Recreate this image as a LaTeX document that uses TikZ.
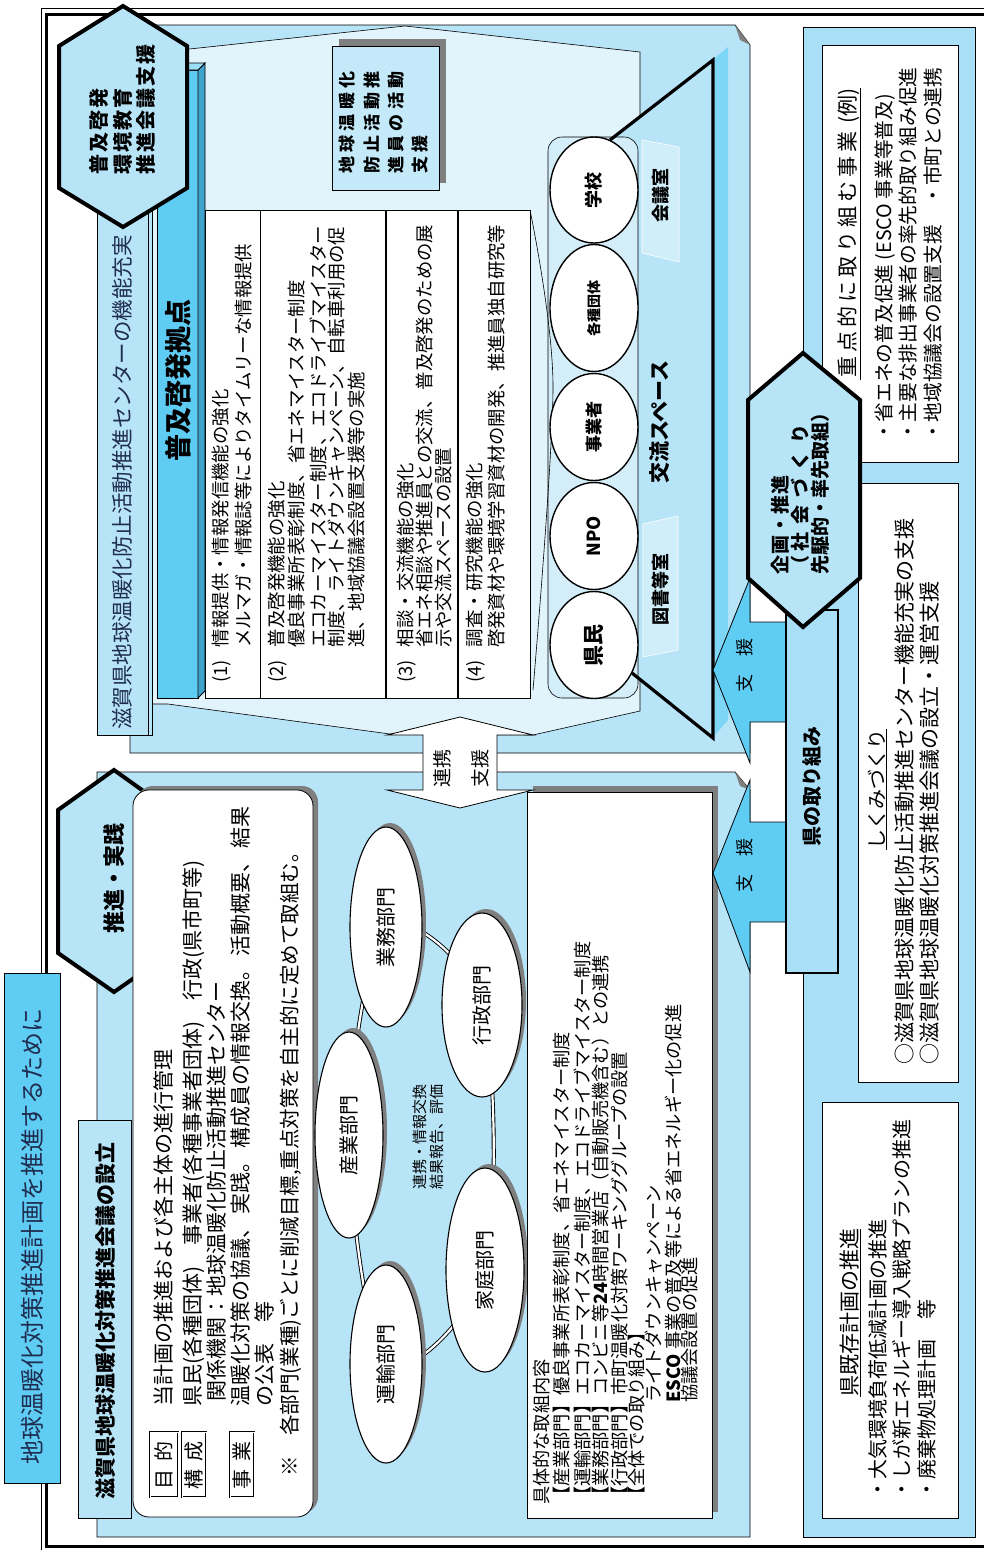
\documentclass[tikz,border=0pt]{standalone}
\usepackage{fontspec}
\setmainfont{Noto Sans CJK JP}
\usetikzlibrary{shapes.geometric}
\definecolor{pale}{HTML}{B8E4F8}
\definecolor{pagec}{HTML}{E1F3FB}
\definecolor{roomc}{HTML}{D3EDF9}
\definecolor{cyanT}{HTML}{5FCCF4}
\definecolor{rpanel}{HTML}{A9DFF7}
\definecolor{stripc}{HTML}{7ED6F6}
\definecolor{sidec}{HTML}{3FA3CC}
\definecolor{topc}{HTML}{9ADFF8}
\definecolor{shadowc}{HTML}{7F7F7F}
\definecolor{navy}{HTML}{1F2D50}
\definecolor{volc}{HTML}{C4EAF9}
\newcommand\fs[1]{\fontsize{#1}{#1}\selectfont}
\makeatletter
\newcommand\spc[2]{\@tfor\spc@c:=#2\do{\makebox[#1][c]{\spc@c}}}
\makeatother
\begin{document}
\begin{tikzpicture}[x=1pt,y=-1pt,
  vt/.style={rotate=90,anchor=west,inner sep=0pt},
  vc/.style={rotate=90,anchor=center,inner sep=0pt},
  ln/.style={draw=black,line width=0.8pt},
  hexa/.style={draw=black,line width=4pt,fill=pale,line join=miter},
  oval/.style={ellipse,draw=black,line width=1.4pt,fill=white,rotate=90,inner sep=0pt},
  tb/.style={vt,font=\fs{18.4}},
  rb/.style={vt,font=\fs{21}},
  rt/.style={vt,font=\fs{18.2}},
]
\useasboundingbox (0,0) rectangle (983,1550);
\fill[white] (0,0) rectangle (983,1550);
% frame
\draw[line width=0.8pt] (41,8) rectangle (1010,1560);
\draw[line width=3pt] (46.5,14) rectangle (1005,1546.5);
% title
\draw[ln,fill=cyanT] (4,973) rectangle (60,1483);
\node[vt,font=\fs{24},text=navy] (title) at (32,1465) {地球温暖化対策推進計画を推進するために};

% ===== upper panel =====
\draw[ln,fill=pale] (130,25) -- (735,25) -- (750,45) -- (750,753) -- (130,753) -- cycle;
\fill[shadowc] (735,25) -- (740,40) -- (750,45) -- cycle;
\draw[line width=0.6pt,fill=pagec] (152,53) -- (405,26) -- (640,52) -- (640,711) -- (533,735) -- (390,734) -- (168,704) -- (152,704) -- cycle;
% room wall
\fill[pale] (610,140) -- (713,60) -- (713,738) -- (632,673) -- cycle;
\fill[stripc] (715,58) -- (728,47) -- (728,720) -- (715,735) -- cycle;
\draw[line width=0.6pt,fill=roomc,rounded corners=14pt] (548,137) rectangle (638,698);
\draw[line width=0.6pt] plot[smooth] coordinates {(530,210) (553,385) (533,690)};
\draw[line width=3.2pt] (610,140) -- (713,60) -- (713,738) -- (632,673);
% wall labels
\fill[white,opacity=0.35] (642,140) -- (679,147) -- (679,262) -- (642,253) -- cycle;
\draw[white,line width=0.6pt] (642,140) -- (679,147) -- (679,262) -- (642,253) -- cycle;
\fill[white,opacity=0.35] (643,524) -- (678,516) -- (678,650) -- (643,657) -- cycle;
\draw[white,line width=0.6pt] (643,524) -- (678,516) -- (678,650) -- (643,657) -- cycle;
\node[vc,font=\bfseries\fs{18}] (kaigi) at (661,195) {会議室};
\node[vc,font=\bfseries\fs{18}] (tosho) at (661,589) {図書等室};
\node[vc,font=\bfseries\fs{21}] (koryu) at (660,422) {交流スペース};
% room ellipses
\node[oval,minimum width=106pt,minimum height=88pt,font=\bfseries\fs{18}] (gakko) at (594,190) {学校};
\node[oval,minimum width=127pt,minimum height=88pt,font=\bfseries\fs{14}] (kakushu) at (594,308) {各種団体};
\node[oval,minimum width=107pt,minimum height=88pt,font=\bfseries\fs{17}] (jigyosha) at (594,427) {事業者};
\node[oval,minimum width=107pt,minimum height=88pt,font=\bfseries\fs{18}] (npo) at (594,536) {NPO};
\node[oval,minimum width=107pt,minimum height=88pt,font=\bfseries\fs{21}] (kenmin) at (594,645) {県民};

% table
\draw[ln,fill=white] (205,210) rectangle (530,698);
\draw[line width=1pt] (260,210) -- (260,698);
\draw[line width=1.8pt] (386,210) -- (386,698);
\draw[line width=1.2pt] (458,210) -- (458,698);
\node[tb] (t1a) at (222,683) {(1)\hspace{13pt}情報提供・情報発信機能の強化};
\node[tb] (t1b) at (243,648) {メルマガ・情報誌等によりタイムリーな情報提供};
\node[tb] (t2a) at (278,683) {(2)\hspace{13pt}普及啓発機能の強化};
\node[tb] (t2b) at (297,648) {優良事業所表彰制度、省エネマイスター制度};
\node[tb] (t2c) at (318,648) {エコカーマイスター制度、エコドライブマイスター};
\node[tb] (t2d) at (337,648) {制度、ライトダウンキャンペーン、自転車利用の促};
\node[tb] (t2e) at (357,648) {進、地域協議会設置支援等の実施};
\node[tb] (t3a) at (407,683) {(3)\hspace{13pt}相談・交流機能の強化};
\node[tb] (t3b) at (425,648) {省エネ相談や推進員との交流、普及啓発のための展};
\node[tb] (t3c) at (444,648) {示や交流スペースの設置};
\node[tb] (t4a) at (476,683) {(4)\hspace{13pt}調査・研究機能の強化};
\node[tb] (t4b) at (497,648) {啓発資材や環境学習資材の開発、推進員独自研究等};

% 3D bar
\fill[cyanT] (157,70) rectangle (198,698);
\draw[line width=0.8pt] (157,70) rectangle (198,698);
\draw[line width=0.8pt,fill=sidec] (198,70) -- (205,63) -- (205,691) -- (198,698) -- cycle;
\draw[line width=0.8pt,fill=topc] (157,70) -- (164,63) -- (205,63) -- (198,70) -- cycle;
\node[vc,font=\bfseries\fs{27}] (kyoten) at (178,380) {普及啓発拠点};

% center label
\draw[ln,fill=pale] (97,210) rectangle (152,735);
\draw[line width=0.6pt] (148,210) -- (148,735);
\node[vt,font=\fs{21.5},text=navy] (centerlbl) at (122,730) {滋賀県地球温暖化防止活動推進センターの機能充実};

% hexagon 1
\draw[hexa] (123,6) -- (187,46) -- (187,188) -- (123,227) -- (59,188) -- (59,46) -- cycle;
\node[vt,font=\bfseries\fs{20}] (h1a) at (99,176) {\spc{22pt}{普及啓発}};
\node[vt,font=\bfseries\fs{20}] (h1b) at (123,176) {\spc{22pt}{環境教育}};
\node[vt,font=\bfseries\fs{20}] (h1c) at (146,176) {\spc{22pt}{推進会議支援}};

% volunteer box
\fill[shadowc] (339,39) rectangle (446,183);
\draw[ln,fill=volc] (332,46) rectangle (439,190);
\node[vt,font=\bfseries\fs{17}] (v1) at (347,176) {\spc{21.3pt}{地球温暖化}};
\node[vt,font=\bfseries\fs{17}] (v2) at (372,176) {\spc{21.3pt}{防止活動推}};
\node[vt,font=\bfseries\fs{17}] (v3) at (396,176) {\spc{21.3pt}{進員の活動}};
\node[vt,font=\bfseries\fs{17}] (v4) at (420,176) {\spc{21.3pt}{支援}};

% ===== lower panel =====
\draw[ln,fill=pale] (97,772) -- (735,772) -- (750,790) -- (750,1537) -- (97,1537) -- cycle;
\fill[shadowc] (735,772) -- (740,786) -- (750,790) -- cycle;
\draw[ln,fill=pale] (78,1120) rectangle (131,1518);
\node[vc,font=\bfseries\fs{21}] (setsuritsu) at (105,1321) {滋賀県地球温暖化対策推進会議の設立};
\draw[hexa] (114,770) -- (170,810) -- (170,953) -- (114,992) -- (58,953) -- (58,810) -- cycle;
\node[vc,font=\bfseries\fs{22}] (suishin) at (114,878) {推進・実践};

% rounded text box
\fill[shadowc,rounded corners=16pt] (137,786) rectangle (318,1513);
\draw[ln,fill=white,rounded corners=16pt] (133,790) rectangle (313,1517);
\draw[double,double distance=0.8pt,line width=0.6pt] (150,1432) rectangle (178,1497);
\draw[double,double distance=0.8pt,line width=0.6pt] (182,1432) rectangle (206,1497);
\draw[double,double distance=0.8pt,line width=0.6pt] (230,1432) rectangle (254,1497);
\node[vc,font=\fs{20}] (mokuteki) at (164,1465) {目\hspace{8pt}的};
\node[vc,font=\fs{20}] (kosei) at (194,1465) {構\hspace{8pt}成};
\node[vc,font=\fs{20}] (jigyo) at (242,1465) {事\hspace{8pt}業};
\node[rb] (r1) at (163,1407) {当計画の推進および各主体の進行管理};
\node[rb] (r2) at (194,1407) {県民(各種団体)　事業者(各種事業者団体)　行政(県市町等)};
\node[rb] (r3) at (217,1402) {関係機関：地球温暖化防止活動推進センター};
\node[rb] (r4) at (241,1407) {温暖化対策の協議、\hspace{3pt}実践。\hspace{3pt}構成員の情報交換。\hspace{3pt}活動概要、\hspace{3pt}結果};
\node[rb] (r5) at (265,1407) {の公表　等};
\node[vt,font=\fs{20.5}] (r6) at (291,1477) {※　各部門(業種)ごとに削減目標,重点対策を自主的に定めて取組む。};

% sector ring
\draw[line width=0.9pt,double=white,double distance=2.2pt] plot[smooth cycle] coordinates {(386,927) (482,1005) (485,1270) (386,1364) (349,1135)};
\fill[shadowc] (390,923) ellipse [x radius=36pt,y radius=100pt];
\fill[shadowc] (486,1001) ellipse [x radius=40pt,y radius=92pt];
\fill[shadowc] (353,1131) ellipse [x radius=34pt,y radius=103pt];
\fill[shadowc] (390,1360) ellipse [x radius=36pt,y radius=99pt];
\fill[shadowc] (489,1266) ellipse [x radius=39pt,y radius=102pt];
\node[oval,line width=1.1pt,minimum width=200pt,minimum height=72pt,font=\fs{20}] (gyomu) at (386,927) {業務部門};
\node[oval,line width=1.1pt,minimum width=184pt,minimum height=80pt,font=\fs{20}] (gyosei) at (482,1005) {行政部門};
\node[oval,line width=1.1pt,minimum width=206pt,minimum height=68pt,font=\fs{20}] (sangyo) at (349,1135) {産業部門};
\node[oval,line width=1.1pt,minimum width=198pt,minimum height=72pt,font=\fs{20}] (unyu) at (386,1364) {運輸部門};
\node[oval,line width=1.1pt,minimum width=204pt,minimum height=78pt,font=\fs{20}] (katei) at (485,1270) {家庭部門};
\node[vt,font=\fs{15}] (cen1) at (420,1190) {連携・情報交換};
\node[vt,font=\fs{15}] (cen2) at (437,1190) {結果報告、評価};

% right text box
\fill[shadowc] (533,786) rectangle (718,1512);
\draw[ln,fill=white] (527,792) rectangle (712,1518);
\node[rt] (b0) at (542,1505) {具体的な取組内容};
\node[rt] (b1) at (562,1505) {【産業部門】優良事業所表彰制度、省エネマイスター制度};
\node[rt] (b2) at (582,1505) {【運輸部門】エコカーマイスター制度、エコドライブマイスター制度};
\node[rt] (b3) at (601,1505) {【業務部門】コンビニ等\textbf{24}時間営業店（自動販売機含む）との連携};
\node[rt] (b4) at (620,1505) {【行政部門】市町温暖化対策ワーキンググループの設置};
\node[rt] (b5) at (637,1505) {【全体での取り組み】};
\node[rt] (b6) at (654,1403) {ライトダウンキャンペーン};
\node[rt] (b7) at (673,1403) {\textbf{ESCO} 事業の普及等による省エネルギー化の促進};
\node[rt] (b8) at (690,1403) {協議会設置の促進};

% link arrow
\draw[ln,fill=white] (460,717) -- (533,735) -- (497,735) -- (497,790) -- (533,790) -- (460,808) -- (387,790) -- (423,790) -- (423,735) -- (387,735) -- cycle;
\node[vc,font=\fs{19}] (renkei) at (442,768) {連携};
\node[vc,font=\fs{19}] (shien0) at (480,768) {支援};

% ===== right panel =====
\draw[ln,fill=rpanel] (803,27) rectangle (975,1537);
\draw[ln,fill=white] (822,45) rectangle (958,462);
\draw[ln,fill=white] (858,483) rectangle (958,1082);
\draw[ln,fill=white] (822,1102) rectangle (958,1518);
\node[vt,font=\fs{21}] (p1) at (849,380) {\spc{25pt}{重点的に取り組む事業}\hspace{6pt}(例)};
\draw[line width=0.8pt] (p1.south west) -- (p1.south east);
\node[vt,font=\fs{19.7}] (p2) at (885,442) {・省エネの普及促進 (ESCO 事業等普及)};
\node[vt,font=\fs{19.7}] (p3) at (908,442) {・主要な排出事業者の率先的取り組み促進};
\node[vt,font=\fs{19.7}] (p4) at (933,442) {・地域協議会の設置支援　・市町との連携};
\node[vt,font=\fs{20}] (s1) at (877,850) {しくみづくり};
\draw[line width=0.8pt] (s1.south west) -- (s1.south east);
\node[vt,font=\fs{21}] (s2) at (905,1065) {○滋賀県地球温暖化防止活動推進センター機能充実の支援};
\node[vt,font=\fs{21}] (s3) at (930,1065) {○滋賀県地球温暖化対策推進会議の設立・運営支援};
\node[vt,font=\fs{21}] (e1) at (850,1397) {県既存計画の推進};
\draw[line width=0.8pt] (e1.south west) -- (e1.south east);
\node[vt,font=\fs{20}] (e2) at (878,1500) {・大気環境負荷低減計画の推進};
\node[vt,font=\fs{20}] (e3) at (902,1500) {・しが新エネルギー導入戦略プランの推進};
\node[vt,font=\fs{20}] (e4) at (927,1500) {・廃棄物処理計画　等};

% support arrows
\draw[ln,fill=cyanT] (786,622) -- (750,622) -- (750,578) -- (713,670) -- (750,763) -- (750,722) -- (786,722);
\draw[ln,fill=cyanT] (786,822) -- (750,822) -- (750,780) -- (713,873) -- (750,972) -- (750,922) -- (786,922);
\node[vc,font=\fs{18}] (shien1) at (745,665) {支　援};
\node[vc,font=\fs{18}] (shien2) at (745,865) {支　援};
% prefecture bar
\draw[line width=2.5pt,fill=rpanel] (786,610) rectangle (838,973);
\node[vc,font=\bfseries\fs{20}] (kenno) at (812,786) {県の取り組み};
% hexagon 3
\draw[hexa] (803,353) -- (860,400) -- (860,578) -- (803,627) -- (748,578) -- (748,400) -- cycle;
\node[vt,font=\bfseries\fs{19}] (k1) at (780,575) {\spc{20pt}{企画・推進}};
\node[vt,font=\bfseries\fs{19}] (k2) at (800,575) {（\spc{27pt}{社会づくり}};
\node[vt,font=\bfseries\fs{19}] (k3) at (820,575) {\spc{19pt}{先駆的・率先取組}）};
\end{tikzpicture}
\end{document}
